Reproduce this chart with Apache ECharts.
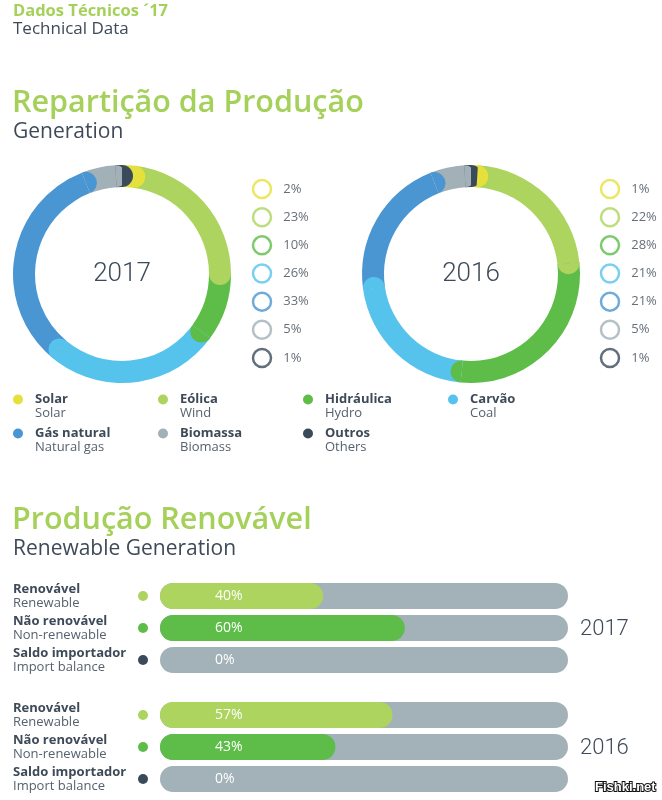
<!DOCTYPE html>
<html><head><meta charset="utf-8">
<script src="https://cdn.jsdelivr.net/npm/echarts@6/dist/echarts.min.js"></script>
<style>html,body{margin:0;padding:0;background:#fff}#c{width:662px;height:800px}</style>
</head><body><div id="c"></div>
<script>
// ---- data ----
const sourceNamesPt = ['Solar', 'Eólica', 'Hidráulica', 'Carvão', 'Gás natural', 'Biomassa', 'Outros'];
const sourceNamesEn = ['Solar', 'Wind', 'Hydro', 'Coal', 'Natural gas', 'Biomass', 'Others'];
const sourceColors = ['#e6e03c', '#acd45e', '#5dbd48', '#56c3ec', '#4a96d2', '#a2b0b8', '#3b4a5a'];
const share2017 = [2, 23, 10, 26, 33, 5, 1];
const share2016 = [1, 22, 28, 21, 21, 5, 1];
const renewCatsPt = ['Renovável', 'Não renovável', 'Saldo importador'];
const renewCatsEn = ['Renewable', 'Non-renewable', 'Import balance'];
const renewColors = ['#acd45e', '#5dbd48', '#3b4a5a'];
const renew2017 = [40, 60, 0];
const renew2016 = [57, 43, 0];
const years = ['2017', '2016'];

// ---- style ----
const FONT = '"Open Sans", Lato, sans-serif';
const GREEN = '#a5d15b';
const INK = '#3e4a58';
const SUB = '#56616d';
const BAR_BG = '#a3b2b9';
const RING_IN = 87, RING_OUT = 109, RING_MID = 98, CAP_R = 11;

const totalOf = a => a.reduce((s, v) => s + v, 0);
const cumulative = a => { let s = 0; return a.map(v => (s += v)); };
const enOf = n => sourceNamesEn[sourceNamesPt.indexOf(n)];

const donuts = [
  { year: years[0], values: share2017, center: [122, 274], legendLeft: 252 },
  { year: years[1], values: share2016, center: [471, 274], legendLeft: 600 }
];
const barBlocks = [
  { year: years[0], values: renew2017, top: 580 },
  { year: years[1], values: renew2016, top: 699 }
];

const title = [
  { text: 'Dados Técnicos ´17', left: 13, top: 3, padding: 0, textStyle: { color: GREEN, fontSize: 16.5, fontWeight: 'bold', fontFamily: FONT } },
  { text: 'Technical Data', left: 13, top: 21, padding: 0, textStyle: { color: INK, fontSize: 17, fontWeight: 'normal', fontFamily: FONT } },
  { text: 'Repartição da Produção', left: 12, top: 88, padding: 0, textStyle: { color: GREEN, fontSize: 30.5, fontWeight: 600, fontFamily: FONT } },
  { text: 'Generation', left: 13, top: 122, padding: 0, textStyle: { color: INK, fontSize: 21, fontWeight: 'normal', fontFamily: FONT } },
  { text: 'Produção Renovável', left: 12, top: 505, padding: 0, textStyle: { color: GREEN, fontSize: 30.5, fontWeight: 600, fontFamily: FONT } },
  { text: 'Renewable Generation', left: 13, top: 539, padding: 0, textStyle: { color: INK, fontSize: 21, fontWeight: 'normal', fontFamily: FONT } },
  { text: 'Fishki.net', left: 595, top: 781, padding: 0, textStyle: { color: '#fff', fontSize: 13, fontWeight: 'bold', fontFamily: 'Liberation Sans', textBorderColor: '#111', textBorderWidth: 2 } }
];
donuts.forEach(d => title.push({
  text: d.year, left: d.center[0], top: d.center[1], textAlign: 'center', textVerticalAlign: 'middle', padding: 0,
  textStyle: { color: INK, fontSize: 26, fontWeight: 300, fontFamily: 'Roboto' }
}));
barBlocks.forEach(b => title.push({
  text: b.year, left: 580, top: b.top + 49, textVerticalAlign: 'middle', padding: 0,
  textStyle: { color: INK, fontSize: 22, fontWeight: 300, fontFamily: 'Roboto' }
}));

const legendBase = {
  padding: 0, itemGap: 0, itemWidth: 10, itemHeight: 10, icon: 'circle', selectedMode: false,
  formatter: n => `{b|${n}}\n{n|${enOf(n)}}`,
  textStyle: {
    padding: [14, 0, 0, 7],
    rich: {
      b: { fontFamily: FONT, fontSize: 13, fontWeight: 'bold', color: INK, width: 123, lineHeight: 14 },
      n: { fontFamily: FONT, fontSize: 13, color: SUB, width: 123, lineHeight: 14 }
    }
  }
};
const legend = [
  Object.assign({}, legendBase, { data: sourceNamesPt.slice(0, 4), left: 13, top: 393 }),
  Object.assign({}, legendBase, { data: sourceNamesPt.slice(4), left: 13, top: 427 })
];

const grid = [], xAxis = [], yAxis = [], series = [];
const polar = [], angleAxis = [], radiusAxis = [];

donuts.forEach((d, k) => {
  const n = d.values.length;
  polar.push({ center: d.center, radius: RING_OUT });
  angleAxis.push({ polarIndex: k, type: 'value', min: 0, max: totalOf(d.values), startAngle: 90, clockwise: true, show: false });
  radiusAxis.push({ polarIndex: k, type: 'value', min: 0, max: RING_OUT, show: false });
  series.push({
    type: 'pie', center: d.center, radius: [RING_IN, RING_OUT], startAngle: 90, clockwise: true,
    silent: true, label: { show: false }, labelLine: { show: false }, emphasis: { disabled: true },
    data: d.values.map((v, i) => ({ name: sourceNamesPt[i], value: v, itemStyle: { color: sourceColors[i] } }))
  });
  const ends = cumulative(d.values);
  series.push({
    type: 'custom', coordinateSystem: 'polar', polarIndex: k, silent: true, z: 3,
    data: ends.map(e => [RING_MID, e]),
    renderItem: (params, api) => {
      const cs = params.coordSys;
      const p = api.coord([api.value(0), api.value(1)]);
      const a = Math.atan2(p[1] - cs.cy, p[0] - cs.cx);
      return {
        type: 'sector', z2: (params.dataIndex + n - 1) % n,
        shape: { cx: p[0], cy: p[1], r0: 0, r: CAP_R, startAngle: a, endAngle: a + Math.PI, clockwise: true },
        style: { fill: sourceColors[params.dataIndex] }
      };
    }
  });
  // percentage key
  const gi = grid.length;
  grid.push({ left: d.legendLeft, top: 175, width: 20, height: 197, outerBoundsMode: 'none', containLabel: false });
  xAxis.push({ gridIndex: gi, type: 'category', data: ['share'], show: false });
  const yi = yAxis.length;
  yAxis.push({ gridIndex: gi, type: 'category', data: sourceNamesPt, inverse: true, show: false });
  series.push({
    type: 'scatter', xAxisIndex: xAxis.length - 1, yAxisIndex: yi, silent: true,
    symbol: 'circle', symbolSize: 18,
    itemStyle: { color: '#fff', borderWidth: 2.5 },
    label: { show: true, position: 'right', distance: 11, formatter: p => p.value[2] + '%', color: INK, fontSize: 13, fontFamily: FONT },
    data: d.values.map((v, i) => ({ value: ['share', sourceNamesPt[i], v], itemStyle: { borderColor: sourceColors[i] } }))
  });
});

const dotRich = {};
renewColors.forEach((c, i) => { dotRich['d' + i] = { width: 10, height: 10, borderRadius: 5, backgroundColor: c }; });

barBlocks.forEach(b => {
  const gi = grid.length;
  grid.push({ left: 160, top: b.top, width: 408, height: 96, outerBoundsMode: 'none', containLabel: false });
  const xi = xAxis.length;
  xAxis.push({ gridIndex: gi, type: 'value', min: 0, max: 100, show: false });
  const yi = yAxis.length;
  yAxis.push({
    gridIndex: gi, type: 'category', data: renewCatsPt, inverse: true, position: 'left',
    axisLine: { show: false }, axisTick: { show: false },
    axisLabel: {
      align: 'left', margin: 147,
      formatter: (v, i) => `{b|${v}}\n{n|${renewCatsEn[i]}}`,
      rich: {
        b: { fontFamily: FONT, fontSize: 13, fontWeight: 'bold', color: INK, lineHeight: 14 },
        n: { fontFamily: FONT, fontSize: 13, color: SUB, lineHeight: 14 }
      }
    }
  });
  yAxis.push({
    gridIndex: gi, type: 'category', data: renewCatsPt, inverse: true, position: 'left',
    axisLine: { show: false }, axisTick: { show: false },
    axisLabel: { margin: 12, formatter: (v, i) => `{d${i}| }`, rich: dotRich }
  });
  series.push({
    type: 'bar', xAxisIndex: xi, yAxisIndex: yi, barWidth: 26, silent: true,
    showBackground: true, backgroundStyle: { color: BAR_BG, borderRadius: 13 },
    itemStyle: { borderRadius: 13 },
    label: { show: true, position: 'insideLeft', distance: 55, formatter: '{c}%', color: '#fff', fontSize: 14, fontFamily: FONT },
    data: b.values.map((v, i) => ({ value: v, itemStyle: { color: renewColors[i] } }))
  });
});

const chart = echarts.init(document.getElementById('c'), null, { renderer: 'canvas' });
chart.setOption({
  animation: false,
  backgroundColor: '#fff',
  textStyle: { fontFamily: FONT },
  title, legend, polar, angleAxis, radiusAxis, grid, xAxis, yAxis, series
});
</script>
</body></html>
